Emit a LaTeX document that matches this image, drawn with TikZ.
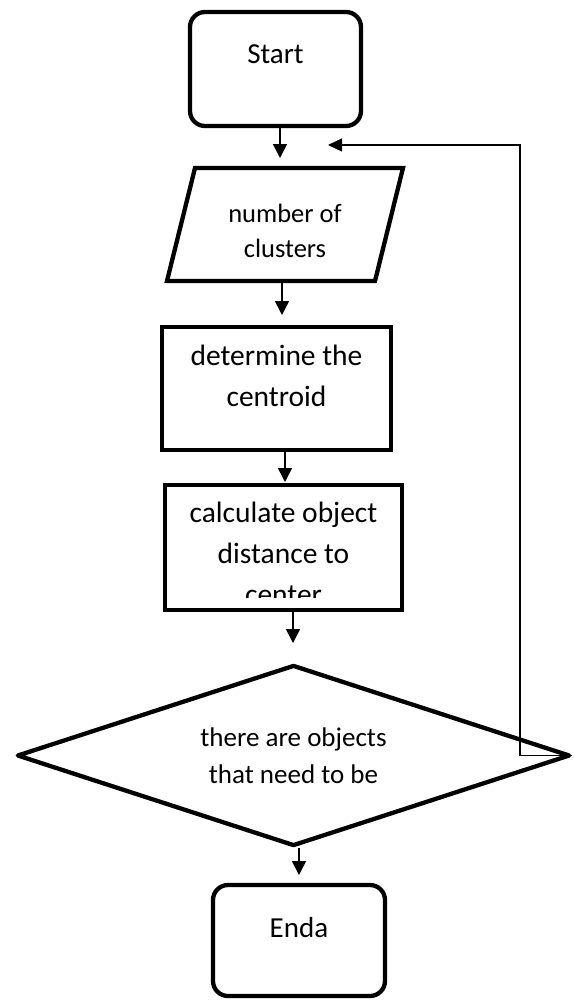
\documentclass[tikz,border=0pt]{standalone}
\usepackage{fontspec}
\setmainfont{Carlito}
\usetikzlibrary{arrows.meta,shapes.geometric}
\tikzset{
  thickline/.style={draw, line width=4.3pt},
  termbox/.style={thickline, rectangle, rounded corners=15pt, inner sep=0pt},
  procbox/.style={thickline, rectangle, inner sep=0pt},
  decbox/.style={thickline, diamond, aspect=3, inner sep=0pt, line join=round},
  arr/.style={line width=1.6pt, -{Triangle[length=14pt,width=14pt]}},
  fb/.style={line width=1.3pt, -{Triangle[length=14pt,width=13pt]}},
  fa/.style={font=\fontsize{29}{34}\selectfont},
  fb26/.style={font=\fontsize{26.5}{35}\selectfont, align=center, inner sep=0pt},
  fc/.style={font=\fontsize{29.5}{41}\selectfont, align=center, inner sep=0pt},
  fd/.style={font=\fontsize{27}{37}\selectfont, align=center},
}
\begin{document}
\begin{tikzpicture}[x=1pt,y=-1pt]
\fill[white] (0,0) rectangle (573,1001);
\useasboundingbox (0,0) rectangle (573,1001);

% Start
\node[termbox, minimum width=171pt, minimum height=114pt,
      label={[fa, yshift=15pt]center:Start}] (start) at (275.5,69) {};

% Input parallelogram
\coordinate (pTL) at (195,168);
\coordinate (pTR) at (403,168);
\coordinate (pBR) at (375,281);
\coordinate (pBL) at (167,281);
\draw[line width=4.3pt] (pTL) -- (pTR) -- (pBR) -- (pBL) -- cycle;
\node[fb26] (input) at (285,230.5) {number of\\clusters};

% Process 1
\node[procbox, minimum width=229pt, minimum height=123pt,
      label={[fc, yshift=12.5pt]center:determine the\\centroid}] (box1) at (276.5,388.5) {};

% Process 2
\node[procbox, minimum width=237pt, minimum height=125pt] (box2) at (283.5,547.5) {};
\begin{scope}
  \clip (165,485) rectangle (402,597);
  \node[fc] (box2text) at (283.5,553.7) {calculate object\\distance to\\center};
\end{scope}

% Decision
\node[decbox, minimum width=553pt, minimum height=181pt, fd] (dec) at (293.5,755.5)
  {there are objects\\that need to be};

% End
\node[termbox, minimum width=172pt, minimum height=111pt,
      label={[fa, yshift=12.5pt]center:Enda}] (end) at (299,940.5) {};

% Arrow end points
\coordinate (a1) at (280,158);
\coordinate (a2) at (282,315);
\coordinate (a3) at (285,482);
\coordinate (a4) at (293,643);
\coordinate (a5) at (299,875);
\coordinate (fbtop) at (520,145);
\coordinate (fbin) at (328,145);

\draw[arr] (start.south -| a1) -- (a1);
\draw[arr] (pBL -| a2) -- (a2);
\draw[arr] (box1.south -| a3) -- (a3);
\draw[arr] (box2.south -| a4) -- (a4);
\draw[arr] (dec.south -| a5) -- (a5);
\draw[fb] (dec.east) -| (fbtop) -- (fbin);
\end{tikzpicture}
\end{document}
